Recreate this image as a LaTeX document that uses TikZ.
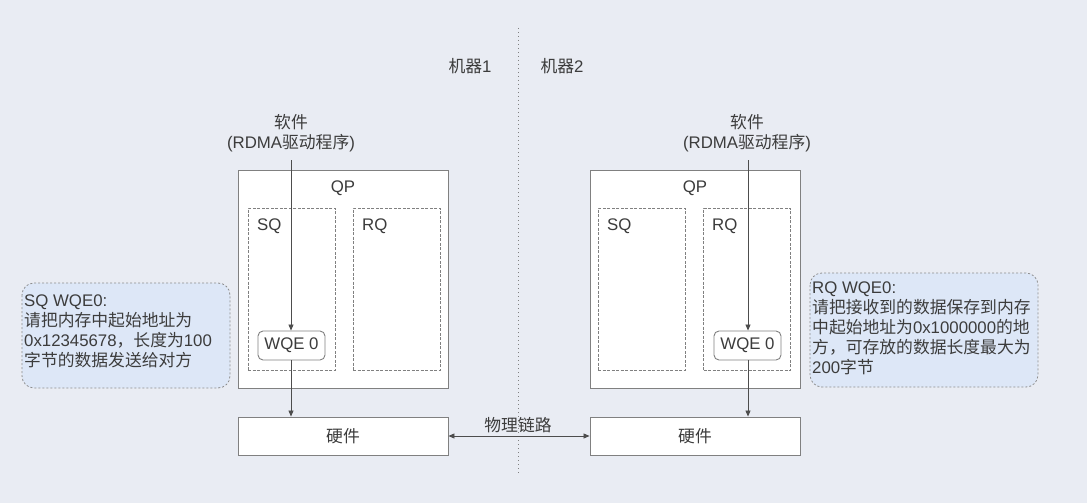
\documentclass[tikz,border=0pt]{standalone}
\usepackage{fontspec}
\setmainfont{Liberation Sans}
\newfontfamily\cjk{Noto Sans CJK SC}
\usetikzlibrary{arrows.meta}
\definecolor{bg}{HTML}{E9ECF3}
\definecolor{ln}{HTML}{808080}
\definecolor{tx}{HTML}{3C3C3C}
\definecolor{note}{HTML}{DDE7F7}
\newcommand\zh[1]{{\cjk #1}}
\begin{document}
\begin{tikzpicture}[x=1pt,y=-1pt, font=\fontsize{16.8}{20}\selectfont, text=tx,
  box/.style={draw=ln, fill=white, line width=0.9pt, inner sep=0},
  queue/.style={draw=ln, dash pattern=on 3pt off 1.5pt, line width=0.9pt, inner sep=0, minimum width=87pt, minimum height=162pt},
  wqe/.style={draw=ln, fill=white, rounded corners=5pt, line width=0.9pt, minimum width=67pt, minimum height=29pt, inner sep=0},
  arr/.style={draw=ln!60!black, line width=0.8pt, -{Triangle[length=6pt,width=5pt]}},
  callout/.style={draw=ln!90, fill=note, dash pattern=on 2pt off 2pt, rounded corners=12pt, line width=0.8pt},
  lbl/.style={inner sep=0}]
\fill[bg] (0,0) rectangle (1087,503);
\useasboundingbox (0,0) rectangle (1087,503);

% separator
\draw[ln, line width=0.9pt, dash pattern=on 1.3pt off 2.7pt] (518,28) -- (518,475);
\node[lbl] (m1) at (470,66) {\zh{机器}1};
\node[lbl] (m2) at (562,66) {\zh{机器}2};

% callouts
\draw[callout] (22,283) rectangle (230,388);
\draw[callout] (810,273) rectangle (1038,387);
\node[lbl, anchor=north west, align=left] (n1) at (24,295) {SQ WQE0:\\ \zh{请把内存中起始地址为}\\ 0x12345678\zh{，长度为}100\\ \zh{字节的数据发送给对方}};
\node[lbl, anchor=north west, align=left] (n2) at (812,282) {RQ WQE0:\\ \zh{请把接收到的数据保存到内存}\\ \zh{中起始地址为}0x1000000\zh{的地}\\ \zh{方，可存放的数据长度最大为}\\ 200\zh{字节}};

% machine 1
\node[box, minimum width=210pt, minimum height=218pt] (qp1) at (343,279) {};
\node[lbl] (qp1l) at (343,188) {QP};
\node[queue] (sq1) at (291.5,289) {};
\node[queue] (rq1) at (396.5,289) {};
\node[lbl, anchor=west] (sq1l) at (257,226) {SQ};
\node[lbl, anchor=west] (rq1l) at (362,226) {RQ};
\node[wqe] (w1) at (291.5,345.5) {WQE 0};
\node[box, minimum width=210pt, minimum height=38pt] (hw1) at (343,436) {\zh{硬件}};
\node[lbl, align=center] (sw1) at (291,133) {\zh{软件}\\(RDMA\zh{驱动程序})};
\coordinate (s1) at (291,160);

% machine 2
\node[box, minimum width=210pt, minimum height=218pt] (qp2) at (695,279) {};
\node[lbl] (qp2l) at (695,188) {QP};
\node[queue] (sq2) at (641.5,289) {};
\node[queue] (rq2) at (747,289) {};
\node[lbl, anchor=west] (sq2l) at (607,226) {SQ};
\node[lbl, anchor=west] (rq2l) at (712,226) {RQ};
\node[wqe] (w2) at (747.5,345.5) {WQE 0};
\node[box, minimum width=210pt, minimum height=38pt] (hw2) at (695,436) {\zh{硬件}};
\node[lbl, align=center] (sw2) at (747,133) {\zh{软件}\\(RDMA\zh{驱动程序})};
\coordinate (s2) at (748,160);

% connectors
\draw[arr] (s1) -- (s1 |- w1.north);
\draw[arr] (w1.south -| s1) -- (s1 |- hw1.north);
\draw[arr] (s2) -- (s2 |- w2.north);
\draw[arr] (w2.south -| s2) -- (s2 |- hw2.north);
\draw[arr, {Triangle[length=6pt,width=5pt]}-{Triangle[length=6pt,width=5pt]}] (hw1.east) -- (hw2.west);
\node[lbl] (link) at (518,425) {\zh{物理链路}};
\end{tikzpicture}
\end{document}
